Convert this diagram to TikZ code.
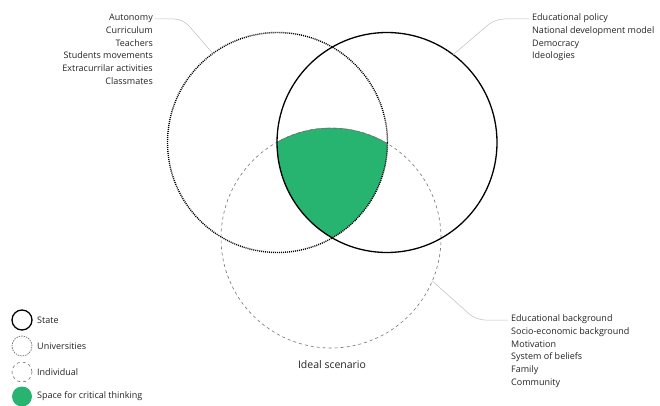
\documentclass[tikz,border=0pt]{standalone}
\usepackage{fontspec}
\setmainfont{Open Sans}
\usetikzlibrary{positioning}

\definecolor{greencol}{RGB}{38,180,112}
\definecolor{leadercol}{RGB}{190,190,190}
\definecolor{textcol}{RGB}{35,35,35}

\begin{document}
\begin{tikzpicture}[x=1pt, y=1pt,
    bigcircle/.style={circle, minimum size=220pt, inner sep=0pt, outer sep=0pt},
    legcircle/.style={circle, minimum size=20pt, inner sep=0pt, outer sep=0pt},
    statestyle/.style={draw=black, line width=1.3pt},
    unistyle/.style={draw=black, line width=1.4pt, dash pattern=on 1pt off 1pt},
    indivstyle/.style={draw=black!55, line width=0.6pt, dash pattern=on 3pt off 3pt},
    listtext/.style={inner sep=0pt, text=textcol, font=\fontsize{9}{11}\selectfont},
    leader/.style={draw=leadercol, line width=0.5pt, rounded corners=9pt}
  ]
  \useasboundingbox (0,0) rectangle (660,-406);

  % Circles
  \node[bigcircle] (univ) at (277.5,-142.5) {};
  \node[bigcircle] (state) at (387,-142.5) {};
  \node[bigcircle] (indiv) at (331,-238) {};

  % Space for critical thinking
  \begin{scope}
    \clip (univ.center) circle[radius=110pt];
    \clip (state.center) circle[radius=110pt];
    \fill[greencol, draw=black!60, line width=0.4pt] (indiv.center) circle[radius=110pt];
  \end{scope}

  \draw[indivstyle] (indiv.center) circle[radius=110pt];
  \draw[unistyle] (univ.center) circle[radius=110pt];
  \draw[statestyle] (state.center) circle[radius=110pt];

  % Universities
  \node[listtext, anchor=base east] (u1) at (153,-20.8) {Autonomy};
  \node[listtext, anchor=base east] (u2) at (153,-33.5) {Curriculum};
  \node[listtext, anchor=base east] (u3) at (153,-46.2) {Teachers};
  \node[listtext, anchor=base east] (u4) at (153,-58.9) {Students movements};
  \node[listtext, anchor=base east] (u5) at (153,-71.6) {Extracurrilar activities};
  \node[listtext, anchor=base east] (u6) at (153,-84.3) {Classmates};

  % State
  \node[listtext, anchor=base west] (s1) at (532,-20.8) {Educational policy};
  \node[listtext, anchor=base west] (s2) at (532,-33.5) {National development model};
  \node[listtext, anchor=base west] (s3) at (532,-46.2) {Democracy};
  \node[listtext, anchor=base west] (s4) at (532,-58.9) {Ideologies};

  % Individual
  \node[listtext, anchor=base west] (i1) at (511,-321.8) {Educational background};
  \node[listtext, anchor=base west] (i2) at (511,-334.5) {Socio-economic background};
  \node[listtext, anchor=base west] (i3) at (511,-347.2) {Motivation};
  \node[listtext, anchor=base west] (i4) at (511,-359.9) {System of beliefs};
  \node[listtext, anchor=base west] (i5) at (511,-372.6) {Family};
  \node[listtext, anchor=base west] (i6) at (511,-385.3) {Community};

  \coordinate (ubend) at (183,-19);
  \coordinate (sbend) at (495,-19);
  \coordinate (ibend) at (476,-320);

  % Leaders
  \draw[leader] (u1.east |- ubend) ++(2,0) -- (ubend) -- (univ.126);
  \draw[leader] (s1.west |- sbend) ++(-3,0) -- (sbend) -- (state.53);
  \draw[leader] (i1.west |- ibend) ++(-3,0) -- (ibend) -- (indiv.-23);

  \node[inner sep=0pt, text=textcol, font=\fontsize{10.5}{12}\selectfont] (ideal) at (332,-365) {Ideal scenario};

  % Legend
  \node[legcircle, statestyle] (lstate) at (22,-320) {};
  \node[legcircle, draw=black!55, line width=0.7pt, dash pattern=on 1.5pt off 1pt] (luniv) at (22,-346) {};
  \node[legcircle, indivstyle] (lindiv) at (22,-372) {};
  \node[legcircle, fill=greencol] (lgreen) at (22,-396.5) {};

  \node[listtext, anchor=west, right=5pt of lstate] (tstate) {State};
  \node[listtext, anchor=west, right=5pt of luniv] (tuniv) {Universities};
  \node[listtext, anchor=west, right=5pt of lindiv] (tindiv) {Individual};
  \node[listtext, anchor=west, right=5pt of lgreen] (tgreen) {Space for critical thinking};
\end{tikzpicture}
\end{document}
